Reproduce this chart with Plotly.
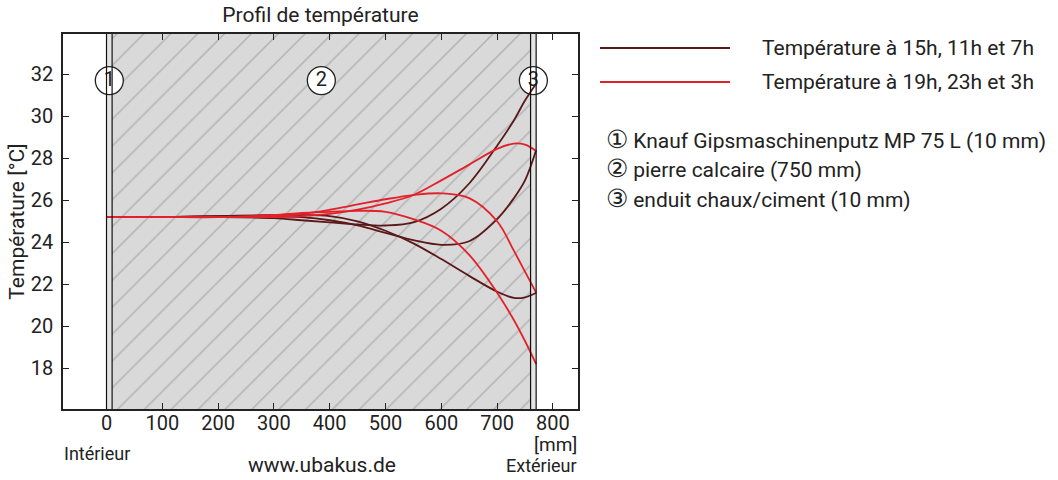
import plotly.graph_objects as go
from itertools import accumulate

# ---------------- data ----------------
layer_names = ["Knauf Gipsmaschinenputz MP 75 L", "pierre calcaire", "enduit chaux/ciment"]
layer_thickness_mm = [10, 750, 10]
layer_symbols = ["①", "②", "③"]
layer_numbers = ["1", "2", "3"]

x_mm = [0, 10, 100, 200, 300, 350, 400, 450, 500, 550, 600, 650, 700, 730, 750, 770]

# dark curves: 15h, 11h, 7h
temp_15h = [25.2, 25.2, 25.2, 25.2, 25.15, 25.05, 24.95, 24.85, 24.8, 24.95, 25.6, 26.8, 28.6, 29.8, 30.75, 31.55]
temp_11h = [25.2, 25.2, 25.2, 25.25, 25.25, 25.2, 25.05, 24.8, 24.45, 24.1, 23.88, 24.05, 25.1, 26.1, 26.95, 28.4]
temp_7h = [25.2, 25.2, 25.2, 25.25, 25.3, 25.3, 25.25, 25.0, 24.55, 23.95, 23.2, 22.4, 21.65, 21.35, 21.38, 21.6]
# red curves: 19h, 23h, 3h
temp_19h = [25.2, 25.2, 25.2, 25.2, 25.2, 25.25, 25.35, 25.55, 25.85, 26.25, 26.95, 27.7, 28.45, 28.7, 28.65, 28.35]
temp_23h = [25.2, 25.2, 25.2, 25.2, 25.25, 25.35, 25.55, 25.8, 26.05, 26.25, 26.33, 26.1, 25.0, 23.6, 22.6, 21.6]
temp_3h = [25.2, 25.2, 25.2, 25.2, 25.3, 25.4, 25.45, 25.5, 25.45, 25.1, 24.55, 23.4, 21.6, 20.3, 19.3, 18.2]

dark_series = [temp_15h, temp_11h, temp_7h]
red_series = [temp_19h, temp_23h, temp_3h]
legend_labels = ["Température à 15h, 11h et 7h", "Température à 19h, 23h et 3h"]

x_ticks = [0, 100, 200, 300, 400, 500, 600, 700, 800]
y_ticks = [18, 20, 22, 24, 26, 28, 30, 32]

# ---------------- style ----------------
X_RANGE = [-78, 845]
Y_RANGE = [16.06, 33.92]
DARK = "#5a1818"
RED = "#e2222a"
TEXT = "#222222"
FONT = "Roboto"
CIRCLE_Y = 31.7

bounds = [0] + list(accumulate(layer_thickness_mm))

fig = go.Figure()

# layers
for i, name in enumerate(layer_names):
    x0, x1 = bounds[i], bounds[i + 1]
    if layer_thickness_mm[i] > 100:
        fig.add_trace(go.Scatter(
            x=[x0, x1, x1, x0, x0], y=[Y_RANGE[0], Y_RANGE[0], Y_RANGE[1], Y_RANGE[1], Y_RANGE[0]],
            mode="lines", line=dict(width=0), fill="toself",
            fillcolor="#d9d9d9",
            fillpattern=dict(shape="/", bgcolor="#d9d9d9", fgcolor="#8c8c8c", size=19, solidity=0.08),
            hoverinfo="skip", showlegend=False))
    else:
        fig.add_trace(go.Scatter(
            x=[x0, x1, x1, x0, x0], y=[Y_RANGE[0], Y_RANGE[0], Y_RANGE[1], Y_RANGE[1], Y_RANGE[0]],
            mode="lines", line=dict(width=0), fill="toself", fillcolor="#e4e4e4",
            hoverinfo="skip", showlegend=False))

for b in bounds:
    fig.add_shape(type="line", x0=b, x1=b, xref="x", y0=0, y1=1, yref="paper",
                  line=dict(color="#111111", width=1.2))

# circled layer numbers
centers = [(bounds[i] + bounds[i + 1]) / 2 for i in range(len(layer_names))]
fig.add_trace(go.Scatter(
    x=centers, y=[CIRCLE_Y] * len(centers), mode="markers+text",
    text=layer_numbers, textposition="middle center",
    textfont=dict(family=FONT, size=20, color=TEXT),
    marker=dict(size=28, color="white", line=dict(color="#222222", width=1.3)),
    hoverinfo="skip", showlegend=False))

# curves
for s in dark_series:
    fig.add_trace(go.Scatter(x=x_mm, y=s, mode="lines", line=dict(color=DARK, width=1.8, shape="spline"),
                             showlegend=False))
for s in red_series:
    fig.add_trace(go.Scatter(x=x_mm, y=s, mode="lines", line=dict(color=RED, width=1.8, shape="spline"),
                             showlegend=False))

# custom legend
L, R, T, B = 63, 578, 34, 409
W, H = R - L, B - T
def px(x): return (x - L) / W
def py(y): return (B - y) / H

for color, label, yy in [(DARK, legend_labels[0], 48), (RED, legend_labels[1], 82)]:
    fig.add_shape(type="line", xref="paper", yref="paper", x0=px(600), x1=px(730), y0=py(yy), y1=py(yy),
                  line=dict(color=color, width=2))
    fig.add_annotation(xref="paper", yref="paper", x=px(760), y=py(yy), text=label, showarrow=False,
                       xanchor="left", yanchor="middle", font=dict(family=FONT, size=21, color=TEXT))

for i, name in enumerate(layer_names):
    txt = (f"<span style='font-size:25px'>{layer_symbols[i]}</span>"
           f" {name} ({layer_thickness_mm[i]} mm)")
    fig.add_annotation(xref="paper", yref="paper", x=px(604), y=py(139 + 29.5 * i), text=txt, showarrow=False,
                       xanchor="left", yanchor="middle", font=dict(family=FONT, size=21, color=TEXT))

# footer texts
fig.add_annotation(xref="paper", yref="paper", x=px(579), y=py(444), text="[mm]", showarrow=False,
                   xanchor="right", yanchor="middle", font=dict(family=FONT, size=19, color=TEXT))
fig.add_annotation(xref="paper", yref="paper", x=px(97), y=py(453), text="Intérieur", showarrow=False,
                   xanchor="center", yanchor="middle", font=dict(family=FONT, size=18, color=TEXT))
fig.add_annotation(xref="paper", yref="paper", x=px(322), y=py(465), text="www.ubakus.de", showarrow=False,
                   xanchor="center", yanchor="middle", font=dict(family=FONT, size=21, color=TEXT))
fig.add_annotation(xref="paper", yref="paper", x=px(579), y=py(466), text="Extérieur", showarrow=False,
                   xanchor="right", yanchor="middle", font=dict(family=FONT, size=18, color=TEXT))

fig.update_layout(
    width=1058, height=480,
    margin=dict(l=L, r=1058 - R, t=T, b=480 - B),
    paper_bgcolor="white", plot_bgcolor="white",
    font=dict(family=FONT, size=19, color=TEXT),
    title=dict(text="Profil de température", x=320.5 / 1058, xanchor="center",
               y=1 - 15 / 480, yanchor="middle", font=dict(family=FONT, size=21, color=TEXT)),
    showlegend=False,
)
fig.update_xaxes(range=X_RANGE, tickvals=x_ticks, ticks="inside", ticklen=6, tickcolor="#222",
                 showline=True, linecolor="#222", linewidth=1.5, mirror="ticks", showgrid=False,
                 zeroline=False, tickfont=dict(size=20), ticklabelstandoff=-5)
fig.update_yaxes(range=Y_RANGE, tickvals=y_ticks, ticks="inside", ticklen=6, tickcolor="#222",
                 showline=True, linecolor="#222", linewidth=1.5, mirror="ticks", showgrid=False,
                 zeroline=False, tickfont=dict(size=20), ticklabelstandoff=4,
                 title=dict(text="Température [°C]", font=dict(size=21), standoff=0))

fig.write_html("out.html")
